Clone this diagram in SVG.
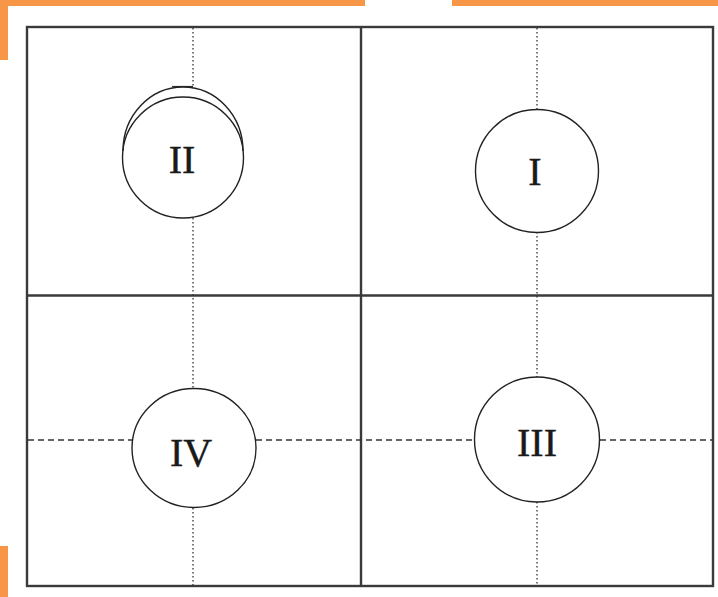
<svg xmlns="http://www.w3.org/2000/svg" width="718" height="597" viewBox="0 0 718 597">
  <style>
    .accent { fill: #F79646; }
    .frame { fill: none; stroke: #3a3a3a; stroke-width: 2.4; }
    .grid { stroke: #3a3a3a; stroke-width: 2.4; }
    .ring { fill: none; stroke: #222; stroke-width: 1.4; }
    .dot { stroke: #333; stroke-width: 1.3; stroke-dasharray: 1.5 2.5; fill: none; }
    .dash { stroke: #333; stroke-width: 1.5; stroke-dasharray: 6 4; fill: none; }
    .num { font-family: "Liberation Serif", "Times New Roman", serif; font-size: 40px; fill: #1a1a1a; text-anchor: middle; stroke: #1a1a1a; stroke-width: 0.4; }
  </style>

  <rect width="718" height="597" fill="#fff"/>

  <!-- orange slide accents -->
  <g id="accents">
    <rect class="accent" x="0" y="0" width="365" height="6"/>
    <rect class="accent" x="452" y="0" width="266" height="6"/>
    <rect class="accent" x="0" y="0" width="8" height="60"/>
    <rect class="accent" x="0" y="546" width="8" height="51"/>
  </g>

  <!-- outer frame and quadrant dividers -->
  <g id="frame">
    <rect class="frame" x="27" y="27" width="686" height="559"/>
    <line class="grid" x1="361" y1="27" x2="361" y2="586"/>
    <line class="grid" x1="27" y1="295.5" x2="713" y2="295.5"/>
  </g>

  <!-- axis lines -->
  <g id="connectors">
    <!-- left column vertical axis -->
    <line class="dot" x1="193" y1="28" x2="193" y2="86"/>
    <path class="dot" d="M193 86.5 H172" style="stroke-dasharray:none;stroke-width:1.2"/>
    <line class="dot" x1="193" y1="218" x2="193" y2="389"/>
    <line class="dot" x1="193" y1="508" x2="193" y2="585"/>
    <!-- right column vertical axis -->
    <line class="dot" x1="537" y1="28" x2="537" y2="110"/>
    <line class="dot" x1="537" y1="232" x2="537" y2="377"/>
    <line class="dot" x1="537" y1="502" x2="537" y2="585"/>
    <!-- horizontal axis through IV and III -->
    <line class="dash" x1="28" y1="440" x2="132" y2="440"/>
    <line class="dash" x1="256" y1="440" x2="474" y2="440"/>
    <line class="dash" x1="600" y1="440" x2="712" y2="440"/>
  </g>

  <g id="node-II">
    <circle class="ring" cx="183" cy="157.5" r="60.5"/>
    <path class="ring" d="M123 151 A60 64 0 0 1 243 151"/>
    <text class="num" x="182" y="173">II</text>
  </g>

  <g id="node-I">
    <circle class="ring" cx="537" cy="171" r="61.5"/>
    <text class="num" x="535" y="185">I</text>
  </g>

  <g id="node-IV">
    <ellipse class="ring" cx="194" cy="448" rx="62" ry="59.5"/>
    <text class="num" x="191" y="466">IV</text>
  </g>

  <g id="node-III">
    <circle class="ring" cx="537" cy="439.5" r="62.5"/>
    <text class="num" x="537" y="456">III</text>
  </g>
</svg>
